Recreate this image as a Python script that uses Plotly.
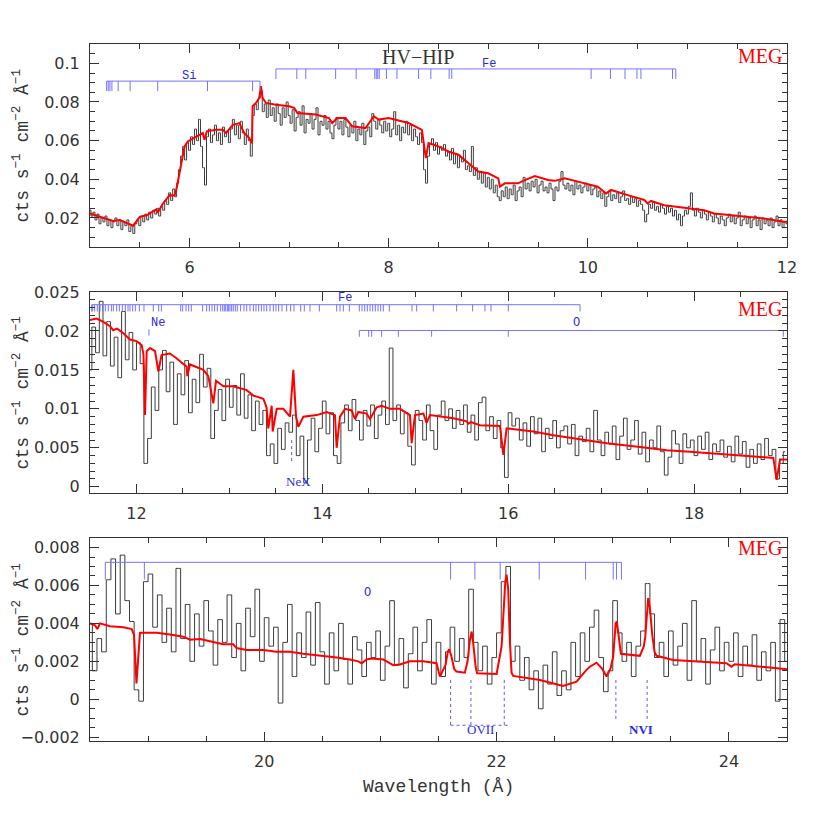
import numpy as np
import plotly.graph_objects as go

# ---------------------------------------------------------------------------
# Data: MEG spectrum (binned counts flux) and best-fit model, three bands
# ---------------------------------------------------------------------------

# Panel 1 : 5 - 12 A, bins of 0.02 A starting at 5.00 A
p1_bin_start = 5.00
p1_bin_width = 0.02
p1_flux = [
    0.024, 0.021, 0.023, 0.019, 0.022, 0.017, 0.020, 0.018, 0.021, 0.016,
    0.019, 0.015, 0.018, 0.020, 0.016, 0.019, 0.014, 0.018, 0.016, 0.019,
    0.013, 0.016, 0.012, 0.017, 0.019, 0.016, 0.021, 0.018, 0.022, 0.019,
    0.023, 0.020, 0.024, 0.022, 0.025, 0.021, 0.026, 0.024, 0.029, 0.027,
    0.033, 0.029, 0.035, 0.031, 0.038, 0.045, 0.052, 0.057, 0.050, 0.059,
    0.055, 0.062, 0.058, 0.066, 0.060, 0.071, 0.057, 0.046, 0.037, 0.062,
    0.066, 0.059, 0.063, 0.068, 0.060, 0.064, 0.058, 0.067, 0.062, 0.065,
    0.059, 0.066, 0.071, 0.063, 0.068, 0.061, 0.070, 0.064, 0.058, 0.066,
    0.060, 0.052, 0.073, 0.079, 0.076, 0.082, 0.086, 0.075, 0.079, 0.072,
    0.081, 0.073, 0.077, 0.070, 0.079, 0.074, 0.068, 0.077, 0.072, 0.080,
    0.073, 0.069, 0.076, 0.065, 0.072, 0.075, 0.068, 0.078, 0.064, 0.071,
    0.069, 0.074, 0.066, 0.071, 0.077, 0.063, 0.070, 0.068, 0.073, 0.066,
    0.070, 0.064, 0.061, 0.068, 0.072, 0.066, 0.070, 0.063, 0.071, 0.067,
    0.062, 0.068, 0.064, 0.070, 0.060, 0.066, 0.063, 0.069, 0.058, 0.065,
    0.067, 0.062, 0.074, 0.070, 0.066, 0.071, 0.068, 0.064, 0.070, 0.065,
    0.069, 0.062, 0.066, 0.075, 0.063, 0.068, 0.060, 0.067, 0.064, 0.070,
    0.063, 0.068, 0.060, 0.066, 0.062, 0.058, 0.064, 0.059, 0.045, 0.038,
    0.052, 0.058, 0.061, 0.055, 0.059, 0.053, 0.057, 0.055, 0.058, 0.052,
    0.054, 0.050, 0.056, 0.048, 0.053, 0.046, 0.052, 0.049, 0.055, 0.045,
    0.047, 0.044, 0.057, 0.042, 0.046, 0.040, 0.044, 0.038, 0.043, 0.036,
    0.041, 0.035, 0.040, 0.033, 0.037, 0.031, 0.029, 0.034, 0.031, 0.036,
    0.030, 0.035, 0.032, 0.037, 0.029, 0.034, 0.036, 0.031, 0.041, 0.035,
    0.038, 0.034, 0.039, 0.036, 0.040, 0.033, 0.037, 0.039, 0.034, 0.036,
    0.033, 0.038, 0.035, 0.029, 0.036, 0.034, 0.039, 0.044, 0.037, 0.035,
    0.038, 0.034, 0.037, 0.032, 0.039, 0.035, 0.037, 0.033, 0.036, 0.038,
    0.034, 0.037, 0.032, 0.035, 0.036, 0.031, 0.034, 0.030, 0.033, 0.026,
    0.031, 0.034, 0.029, 0.032, 0.030, 0.033, 0.028, 0.031, 0.034, 0.029,
    0.030, 0.027, 0.031, 0.028, 0.030, 0.026, 0.029, 0.027, 0.024, 0.018,
    0.022, 0.027, 0.025, 0.028, 0.024, 0.026, 0.023, 0.027, 0.025, 0.022,
    0.026, 0.023, 0.025, 0.021, 0.024, 0.019, 0.022, 0.016, 0.021, 0.024,
    0.022, 0.026, 0.033, 0.024, 0.021, 0.025, 0.023, 0.020, 0.024, 0.022,
    0.019, 0.023, 0.021, 0.018, 0.022, 0.020, 0.017, 0.021, 0.019, 0.016,
    0.020, 0.022, 0.018, 0.021, 0.017, 0.020, 0.023, 0.016, 0.019, 0.021,
    0.017, 0.020, 0.015, 0.019, 0.021, 0.016, 0.019, 0.014, 0.020, 0.017,
    0.019, 0.016, 0.020, 0.015, 0.018, 0.021, 0.016, 0.019, 0.015, 0.018,
    0.017,
]
p1_model_wave = [
    5.000, 5.200, 5.230, 5.300, 5.400, 5.433, 5.500, 5.567, 5.667, 5.683,
    5.733, 5.800, 5.850, 5.873, 5.917, 5.950, 5.983, 6.067, 6.133, 6.150,
    6.173, 6.267, 6.333, 6.367, 6.433, 6.500, 6.550, 6.600, 6.627, 6.633,
    6.667, 6.700, 6.717, 6.733, 6.767, 6.867, 7.000, 7.050, 7.083, 7.267,
    7.400, 7.433, 7.483, 7.567, 7.633, 7.767, 7.850, 7.900, 8.000, 8.200,
    8.333, 8.373, 8.400, 8.500, 8.600, 8.700, 8.800, 8.900, 9.000, 9.100,
    9.117, 9.167, 9.300, 9.367, 9.467, 9.600, 9.667, 9.767, 9.900, 9.967,
    10.100, 10.183, 10.233, 10.400, 10.567, 10.600, 10.633, 10.767, 10.900, 11.033,
    11.167, 11.267, 11.433, 11.600, 11.767, 11.967, 12.000,
]
p1_model_flux = [
    0.0223, 0.0189, 0.0184, 0.0189, 0.0168, 0.0160, 0.0206, 0.0214, 0.0244, 0.0231,
    0.0275, 0.0318, 0.0316, 0.0362, 0.0483, 0.0570, 0.0596, 0.0622, 0.0639, 0.0604,
    0.0648, 0.0656, 0.0656, 0.0639, 0.0682, 0.0691, 0.0639, 0.0613, 0.0587, 0.0778,
    0.0795, 0.0821, 0.0882, 0.0821, 0.0795, 0.0786, 0.0778, 0.0770, 0.0743, 0.0735,
    0.0717, 0.0691, 0.0717, 0.0717, 0.0674, 0.0665, 0.0726, 0.0709, 0.0717, 0.0691,
    0.0656, 0.0510, 0.0587, 0.0570, 0.0544, 0.0527, 0.0483, 0.0440, 0.0431, 0.0405,
    0.0362, 0.0379, 0.0379, 0.0396, 0.0417, 0.0396, 0.0392, 0.0405, 0.0388, 0.0379,
    0.0362, 0.0327, 0.0345, 0.0318, 0.0293, 0.0275, 0.0288, 0.0266, 0.0258, 0.0249,
    0.0240, 0.0223, 0.0214, 0.0206, 0.0197, 0.0180, 0.0180,
]

# Panel 2 : 11.5 - 19 A
p2_bin_start = 11.50
p2_bin_width = 0.04
p2_flux = [
    0.0150, 0.0205, 0.0172, 0.0238, 0.0168, 0.0212, 0.0155, 0.0192, 0.0140, 0.0225,
    0.0163, 0.0198, 0.0150, 0.0185, 0.0158, 0.0030, 0.0062, 0.0128, 0.0098, 0.0150,
    0.0175, 0.0122, 0.0160, 0.0080, 0.0145, 0.0118, 0.0162, 0.0095, 0.0138, 0.0108,
    0.0170, 0.0128, 0.0152, 0.0062, 0.0098, 0.0125, 0.0085, 0.0138, 0.0102, 0.0130,
    0.0092, 0.0145, 0.0088, 0.0118, 0.0072, 0.0110, 0.0080, 0.0098, 0.0040, 0.0055,
    0.0030, 0.0075, 0.0048, 0.0082, 0.0070, 0.0092, 0.0040, 0.0065, 0.0005, 0.0060,
    0.0088, 0.0045, 0.0075, 0.0110, 0.0068, 0.0095, 0.0040, 0.0030, 0.0082, 0.0105,
    0.0072, 0.0112, 0.0085, 0.0060, 0.0098, 0.0078, 0.0105, 0.0062, 0.0092, 0.0110,
    0.0080, 0.0178, 0.0085, 0.0105, 0.0068, 0.0095, 0.0052, 0.0028, 0.0098, 0.0085,
    0.0060, 0.0105, 0.0072, 0.0048, 0.0092, 0.0110, 0.0085, 0.0100, 0.0075, 0.0098,
    0.0080, 0.0105, 0.0070, 0.0092, 0.0060, 0.0108, 0.0115, 0.0072, 0.0090, 0.0062,
    0.0085, 0.0050, 0.0012, 0.0095, 0.0078, 0.0088, 0.0060, 0.0082, 0.0052, 0.0090,
    0.0068, 0.0088, 0.0045, 0.0075, 0.0062, 0.0085, 0.0050, 0.0072, 0.0078, 0.0055,
    0.0080, 0.0040, 0.0065, 0.0058, 0.0075, 0.0045, 0.0098, 0.0060, 0.0040, 0.0070,
    0.0055, 0.0078, 0.0035, 0.0065, 0.0088, 0.0048, 0.0060, 0.0085, 0.0042, 0.0070,
    0.0032, 0.0060, 0.0050, 0.0078, 0.0045, 0.0015, 0.0038, 0.0072, 0.0055, 0.0030,
    0.0068, 0.0050, 0.0060, 0.0040, 0.0065, 0.0048, 0.0070, 0.0035, 0.0055, 0.0045,
    0.0060, 0.0038, 0.0052, 0.0032, 0.0065, 0.0042, 0.0058, 0.0025, 0.0048, 0.0030,
    0.0055, 0.0035, 0.0062, 0.0040, 0.0048, 0.0010, 0.0030, 0.0045,
]
p2_model_wave = [
    11.500, 11.570, 11.640, 11.715, 11.750, 11.790, 11.860, 11.930, 12.000, 12.056,
    12.075, 12.092, 12.110, 12.146, 12.200, 12.235, 12.270, 12.360, 12.430, 12.540,
    12.547, 12.576, 12.720, 12.773, 12.827, 12.856, 12.935, 13.040, 13.186, 13.258,
    13.365, 13.400, 13.419, 13.455, 13.466, 13.509, 13.580, 13.652, 13.688, 13.717,
    13.742, 13.796, 13.940, 14.047, 14.136, 14.154, 14.190, 14.244, 14.316, 14.351,
    14.387, 14.477, 14.513, 14.585, 14.638, 14.728, 14.836, 14.943, 14.961, 14.997,
    15.087, 15.122, 15.158, 15.266, 15.410, 15.553, 15.571, 15.600, 15.696, 15.911,
    15.948, 15.983, 16.270, 16.486, 16.700, 17.060, 17.418, 17.705, 17.956, 18.207,
    18.420, 18.710, 18.853, 18.889, 18.925, 19.000,
]
p2_model_flux = [
    0.0214, 0.0216, 0.0212, 0.0206, 0.0201, 0.0203, 0.0197, 0.0189, 0.0187, 0.0182,
    0.0170, 0.0092, 0.0174, 0.0178, 0.0174, 0.0148, 0.0169, 0.0171, 0.0165, 0.0154,
    0.0142, 0.0157, 0.0150, 0.0142, 0.0107, 0.0136, 0.0129, 0.0129, 0.0124, 0.0117,
    0.0113, 0.0102, 0.0075, 0.0104, 0.0071, 0.0100, 0.0100, 0.0090, 0.0150, 0.0090,
    0.0077, 0.0090, 0.0092, 0.0096, 0.0092, 0.0050, 0.0090, 0.0100, 0.0098, 0.0087,
    0.0096, 0.0094, 0.0087, 0.0102, 0.0104, 0.0100, 0.0100, 0.0092, 0.0056, 0.0092,
    0.0094, 0.0082, 0.0092, 0.0090, 0.0088, 0.0084, 0.0081, 0.0083, 0.0079, 0.0078,
    0.0041, 0.0075, 0.0071, 0.0066, 0.0062, 0.0056, 0.0051, 0.0047, 0.0045, 0.0043,
    0.0041, 0.0039, 0.0037, 0.0009, 0.0035, 0.0035,
]

# Panel 3 : 18.5 - 24.5 A
p3_bin_start = 18.50
p3_bin_width = 0.04
p3_flux = [
    0.0040, 0.0015, 0.0032, 0.0025, 0.0063, 0.0074, 0.0045, 0.0076, 0.0052, 0.0041,
    0.0005, -0.0001, 0.0062, 0.0066, 0.0038, 0.0055, 0.0030, 0.0048, 0.0025, 0.0069,
    0.0032, 0.0050, 0.0020, 0.0045, 0.0028, 0.0052, 0.0036, 0.0018, 0.0042, 0.0030,
    0.0055, 0.0022, 0.0040, 0.0015, 0.0048, 0.0033, 0.0058, 0.0020, 0.0043, 0.0028,
    0.0038, -0.0002, 0.0030, 0.0050, 0.0012, 0.0035, 0.0022, 0.0046, 0.0018, 0.0051,
    0.0025, 0.0008, 0.0035, 0.0015, 0.0040, 0.0021, 0.0008, 0.0033, 0.0026, 0.0012,
    0.0030, 0.0022, 0.0036, 0.0010, 0.0028, 0.0052, 0.0018, 0.0032, 0.0006, 0.0024,
    0.0038, 0.0015, 0.0030, 0.0042, 0.0008, 0.0030, 0.0012, 0.0025, 0.0038, 0.0020,
    0.0032, 0.0022, 0.0058, 0.0030, 0.0015, 0.0028, 0.0008, 0.0022, 0.0035, 0.0062,
    0.0070, 0.0020, 0.0028, 0.0010, 0.0022, 0.0005, 0.0015, -0.0005, 0.0018, 0.0008,
    0.0025, 0.0002, 0.0015, 0.0005, 0.0030, 0.0012, 0.0035, 0.0020, 0.0038, 0.0047,
    0.0022, 0.0004, 0.0015, 0.0052, 0.0035, 0.0020, 0.0030, 0.0012, 0.0028, 0.0036,
    0.0061, 0.0045, 0.0022, 0.0030, 0.0012, 0.0036, 0.0018, 0.0028, 0.0040, 0.0010,
    0.0052, 0.0020, 0.0032, 0.0008, 0.0026, 0.0038, 0.0015, 0.0030, 0.0020, 0.0035,
    0.0012, 0.0028, 0.0018, 0.0034, 0.0010, 0.0025, 0.0015, 0.0030, -0.0001, 0.0042,
    0.0020,
]
p3_model_wave = [
    18.500, 18.543, 18.563, 18.586, 18.672, 18.787, 18.859, 18.879, 18.900, 18.916,
    18.930, 18.959, 19.074, 19.188, 19.303, 19.360, 19.447, 19.504, 19.647, 19.733,
    19.762, 19.848, 19.992, 20.106, 20.221, 20.336, 20.508, 20.623, 20.738, 20.809,
    20.838, 20.881, 20.924, 21.024, 21.110, 21.168, 21.254, 21.369, 21.483, 21.512,
    21.560, 21.580, 21.592, 21.610, 21.635, 21.655, 21.727, 21.750, 21.770, 21.785,
    21.800, 21.820, 21.833, 22.000, 22.043, 22.060, 22.075, 22.086, 22.100, 22.115,
    22.129, 22.143, 22.373, 22.573, 22.688, 22.774, 22.800, 22.860, 22.910, 22.946,
    22.980, 23.004, 23.015, 23.025, 23.035, 23.050, 23.070, 23.233, 23.268, 23.280,
    23.295, 23.305, 23.320, 23.340, 23.360, 23.377, 23.520, 23.979, 24.022, 24.050,
    24.500,
]
p3_model_flux = [
    0.00400, 0.00390, 0.00370, 0.00400, 0.00385, 0.00380, 0.00370, 0.00340, 0.00084, 0.00210,
    0.00350, 0.00350, 0.00350, 0.00342, 0.00330, 0.00314, 0.00318, 0.00310, 0.00290, 0.00290,
    0.00270, 0.00260, 0.00260, 0.00250, 0.00250, 0.00240, 0.00230, 0.00220, 0.00210, 0.00200,
    0.00190, 0.00210, 0.00215, 0.00210, 0.00180, 0.00183, 0.00200, 0.00200, 0.00190, 0.00120,
    0.00180, 0.00250, 0.00264, 0.00230, 0.00160, 0.00146, 0.00140, 0.00200, 0.00310, 0.00357,
    0.00290, 0.00170, 0.00137, 0.00133, 0.00278, 0.00450, 0.00620, 0.00657, 0.00580, 0.00300,
    0.00140, 0.00123, 0.00102, 0.00070, 0.00093, 0.00155, 0.00170, 0.00193, 0.00160, 0.00120,
    0.00160, 0.00225, 0.00300, 0.00400, 0.00410, 0.00330, 0.00240, 0.00229, 0.00280, 0.00330,
    0.00480, 0.00534, 0.00480, 0.00340, 0.00250, 0.00229, 0.00207, 0.00190, 0.00172, 0.00185,
    0.00158,
]

# Line identifications (wavelengths, A)
si_lines = [5.167, 5.183, 5.200, 5.220, 5.283, 5.403, 5.680, 6.180, 6.633, 6.707]
fe_lines_p1 = [6.867, 7.077, 7.167, 7.467, 7.673, 7.860, 7.875, 7.890, 7.905, 7.977,
               8.083, 8.300, 8.423, 8.607, 8.633, 10.033, 10.227, 10.373, 10.493,
               10.533, 10.850, 10.883]
fe_lines_p2 = [11.518, 11.529, 11.550, 11.579, 11.608, 11.636, 11.665, 11.697, 11.730,
               11.751, 11.787, 11.816, 11.848, 11.880, 11.909, 11.930, 11.959, 11.988,
               12.031, 12.081, 12.181, 12.239, 12.268, 12.476, 12.497, 12.533, 12.562,
               12.590, 12.712, 12.755, 12.784, 12.813, 12.841, 12.870, 12.906, 12.928,
               12.945, 12.960, 12.978, 12.992, 13.006, 13.024, 13.042, 13.064, 13.085,
               13.121, 13.157, 13.186, 13.222, 13.258, 13.286, 13.315, 13.344, 13.372,
               13.401, 13.437, 13.473, 13.501, 13.530, 13.566, 13.616, 13.659, 13.695,
               13.767, 13.806, 13.867, 13.968, 14.154, 14.190, 14.226, 14.291, 14.398,
               14.427, 14.456, 14.484, 14.513, 14.542, 14.570, 14.599, 14.628, 14.656,
               14.721, 14.965, 15.015, 15.194, 15.445, 15.617, 15.750, 15.815, 16.001,
               16.773]
o_lines_p2 = [14.398, 14.499, 14.531, 14.638, 14.818, 15.176, 16.001, 18.960]
ne_lines = [12.134]
o_lines_p3 = [18.632, 18.968, 21.604, 21.813, 22.031, 22.367, 22.766, 23.004, 23.032,
              23.075]
nex_marker = [13.670]
ovii_markers = [21.604, 21.779, 22.066]
nvi_markers = [23.027, 23.296]

DATA_COLOR = "#3c3c3c"
MODEL_COLOR = "#ff0000"
ID_COLOR = "#7474ff"
ID_TEXT = "#2a2ae6"
AXIS_COLOR = "#333333"


def _bin_centres(start, width, n):
    return np.round(start + width * np.arange(n), 4)


def _bracket(waves, y_line, y_tick):
    """Horizontal bar spanning the lines, with a tick dropping at each one."""
    xs, ys = [waves[0], waves[-1], None], [y_line, y_line, None]
    for w in waves:
        xs += [w, w, None]
        ys += [y_line, y_tick, None]
    return xs, ys


def _markers(waves, y_top, y_bottom, join=None):
    xs, ys = [], []
    for w in waves:
        xs += [w, w, None]
        ys += [y_top, y_bottom, None]
    if join is not None:
        xs += [join[0], join[1], None]
        ys += [y_bottom, y_bottom, None]
    return xs, ys


def _axis(rng, dtick, minor, anchor, domain=None):
    ax = dict(
        range=rng,
        dtick=dtick,
        tick0=0,
        showline=True,
        linecolor=AXIS_COLOR,
        linewidth=1,
        mirror="allticks",
        ticks="inside",
        ticklen=9,
        tickcolor=AXIS_COLOR,
        minor=dict(ticks="inside", ticklen=5, dtick=minor, tick0=0, tickcolor=AXIS_COLOR),
        showgrid=False,
        zeroline=False,
        anchor=anchor,
        tickfont=dict(family="DejaVu Sans", size=16, color="#333333"),
        ticklabelstandoff=6,
    )
    if domain is not None:
        ax["domain"] = domain
    return ax


fig = go.Figure()

panels = [
    ("x", "y", p1_bin_start, p1_bin_width, p1_flux, p1_model_wave, p1_model_flux),
    ("x2", "y2", p2_bin_start, p2_bin_width, p2_flux, p2_model_wave, p2_model_flux),
    ("x3", "y3", p3_bin_start, p3_bin_width, p3_flux, p3_model_wave, p3_model_flux),
]
for xa, ya, start, width, flux, mwave, mflux in panels:
    fig.add_trace(go.Scatter(
        x=_bin_centres(start, width, len(flux)), y=flux, xaxis=xa, yaxis=ya,
        mode="lines", line=dict(color=DATA_COLOR, width=1, shape="hvh"),
        hoverinfo="skip",
    ))
    fig.add_trace(go.Scatter(
        x=mwave, y=mflux, xaxis=xa, yaxis=ya,
        mode="lines", line=dict(color=MODEL_COLOR, width=2),
        hoverinfo="skip",
    ))

# Line-ID brackets
brackets = [
    ("x", "y", si_lines, 0.0908, 0.0856),
    ("x", "y", fe_lines_p1, 0.0971, 0.0919),
    ("x2", "y2", fe_lines_p2, 0.02337, 0.0225),
    ("x2", "y2", o_lines_p2, 0.02006, 0.01925),
    ("x3", "y3", o_lines_p3, 0.00722, 0.00631),
]
for xa, ya, waves, y_line, y_tick in brackets:
    bx, by = _bracket(waves, y_line, y_tick)
    fig.add_trace(go.Scatter(
        x=bx, y=by, xaxis=xa, yaxis=ya, mode="lines",
        line=dict(color=ID_COLOR, width=1), hoverinfo="skip",
    ))

# Single Ne tick
nx, ny = _markers(ne_lines, 0.0202, 0.0194)
fig.add_trace(go.Scatter(x=nx, y=ny, xaxis="x2", yaxis="y2", mode="lines",
                         line=dict(color=ID_COLOR, width=1), hoverinfo="skip"))

# Dotted emission-line markers
dotted = [
    ("x2", "y2", nex_marker, 0.0060, 0.0032, None),
    ("x3", "y3", ovii_markers, 0.00102, -0.00137, (21.604, 22.10)),
    ("x3", "y3", nvi_markers, 0.00102, -0.0011, None),
]
for xa, ya, waves, top, bottom, join in dotted:
    dx, dy = _markers(waves, top, bottom, join)
    fig.add_trace(go.Scatter(
        x=dx, y=dy, xaxis=xa, yaxis=ya, mode="lines",
        line=dict(color="#5a5aff", width=1, dash="dot"), hoverinfo="skip",
    ))

id_font = dict(family="Liberation Mono", size=12, color=ID_TEXT)
serif_id = dict(family="Liberation Serif", size=13, color=ID_TEXT)
labels = [
    ("x", "y", 5.99, 0.0937, "Si", id_font),
    ("x", "y", 9.01, 0.0994, "Fe", id_font),
    ("x2", "y2", 14.24, 0.02427, "Fe", id_font),
    ("x2", "y2", 12.235, 0.0210, "Ne", id_font),
    ("x2", "y2", 16.73, 0.0210, "O", id_font),
    ("x2", "y2", 13.74, 0.00066, "NeX", serif_id),
    ("x3", "y3", 20.886, 0.0056, "O", id_font),
    ("x3", "y3", 21.86, -0.00159, "OVII", serif_id),
    ("x3", "y3", 23.242, -0.00159, "<b>NVI</b>", serif_id),
]
annotations = [
    dict(x=x, y=y, xref=xa, yref=ya, text=t, showarrow=False, font=f,
         xanchor="center", yanchor="middle")
    for xa, ya, x, y, t, f in labels
]

meg_font = dict(family="Liberation Serif", size=20, color=MODEL_COLOR)
for ya_dom, y_top in [("y domain", 0.94), ("y2 domain", 0.915), ("y3 domain", 0.95)]:
    xa_dom = ya_dom.replace("y", "x")
    annotations.append(dict(x=0.995, y=y_top, xref=xa_dom, yref=ya_dom, text="MEG",
                            showarrow=False, font=meg_font, xanchor="right",
                            yanchor="middle"))

annotations.append(dict(x=0.4706, y=0.937, xref="x domain", yref="y domain",
                        text="HV\u2212HIP", showarrow=False,
                        font=dict(family="Liberation Serif", size=20, color="#333333"),
                        xanchor="center", yanchor="middle"))

ytitle = "cts s<sup>\u22121</sup> cm<sup>\u22122</sup> \u00c5<sup>\u22121</sup>"
for yc in [0.8544, 0.5, 0.1456]:
    annotations.append(dict(x=-0.0976, y=yc, xref="paper", yref="paper", text=ytitle,
                            textangle=-90, showarrow=False,
                            font=dict(family="Liberation Mono", size=18, color="#333333"),
                            xanchor="center", yanchor="middle"))

annotations.append(dict(x=0.5, y=-0.066, xref="paper", yref="paper",
                        text="Wavelength (\u00c5)", showarrow=False,
                        font=dict(family="Liberation Mono", size=18, color="#333333"),
                        xanchor="center", yanchor="middle"))

# The page body adds an 8 px offset, so the figure is 822 px and margins shrink.
fig.update_layout(
    width=822,
    height=822,
    margin=dict(l=82, r=43, t=36, b=89),
    paper_bgcolor="white",
    plot_bgcolor="white",
    showlegend=False,
    xaxis=_axis([5, 12], 2, 0.5, "y"),
    yaxis=_axis([0.005, 0.11], 0.02, 0.005, "x", [0.7088, 1.0]),
    xaxis2=_axis([11.5, 19], 2, 0.5, "y2"),
    yaxis2=_axis([-0.0008, 0.025], 0.005, 0.001, "x2", [0.3558, 0.6442]),
    xaxis3=_axis([18.5, 24.5], 2, 0.5, "y3"),
    yaxis3=_axis([-0.0022, 0.0085], 0.002, 0.0005, "x3", [0.0, 0.2912]),
    annotations=annotations,
)

fig.write_html("out.html")
